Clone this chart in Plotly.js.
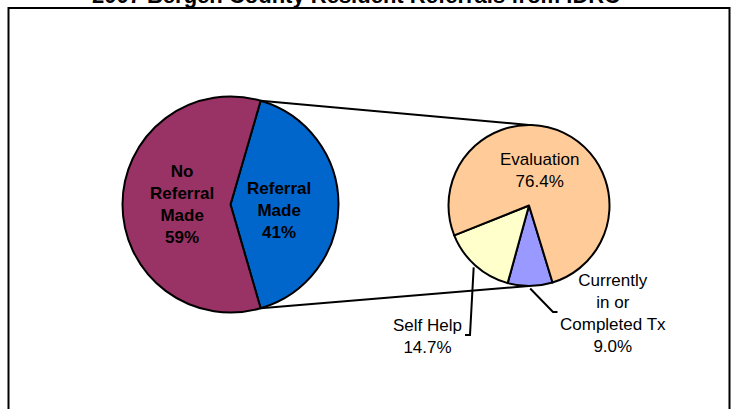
<!DOCTYPE html>
<html>
<head>
<meta charset="utf-8">
<script src="https://cdn.plot.ly/plotly-3.0.1.min.js"></script>
<style>html,body{margin:0;padding:0;background:#fff;}#chart{width:735px;height:409px;}</style>
</head>
<body>
<div id="chart"></div>
<script>
// ---- data ----
var titleText = '2007 Bergen County Resident Referrals from IDRC';
var leftLabels = ['Referral Made', 'No Referral Made'];
var leftValues = [41, 59];
var leftColors = ['#0066CC', '#993366'];
var leftLabelLines = ['Referral<br>Made', 'No<br>Referral<br>Made'];

var rightLabels = ['Currently in or Completed Tx', 'Self Help', 'Evaluation'];
var rightValues = [9.0, 14.7, 76.4];
var rightColors = ['#9999FF', '#FFFFCC', '#FFCC99'];
var rightLabelLines = ['Currently<br>in or<br>Completed Tx', 'Self Help', 'Evaluation'];

// ---- layout geometry (pixels) ----
var W = 735, H = 409;
function px(x) { return x / W; }
function py(y) { return 1 - y / H; }
var L = {cx: 230.5, cy: 204.5, r: 108};
var R = {cx: 529, cy: 205.5, r: 80.5};

function total(a) { return a.reduce(function (s, v) { return s + v; }, 0); }
var leftTot = total(leftValues), rightTot = total(rightValues);
// rotate left pie so the "Referral Made" slice is centred at 3 o'clock
var leftRot = 90 - (leftValues[0] / leftTot) * 360 / 2;
var rightRot = 163;

function edge(p, deg, rr) {
  var a = deg * Math.PI / 180;
  return [p.cx + rr * Math.sin(a), p.cy - rr * Math.cos(a)];
}

var traces = [
  {
    type: 'pie', labels: leftLabels, values: leftValues, sort: false,
    direction: 'clockwise', rotation: leftRot,
    marker: {colors: leftColors, line: {color: '#000', width: 2}},
    textinfo: 'none', hoverinfo: 'none', showlegend: false,
    domain: {x: [px(L.cx - L.r), px(L.cx + L.r)], y: [py(L.cy + L.r), py(L.cy - L.r)]}
  },
  {
    type: 'pie', labels: rightLabels, values: rightValues, sort: false,
    direction: 'clockwise', rotation: rightRot,
    marker: {colors: rightColors, line: {color: '#000', width: 2}},
    textinfo: 'none', hoverinfo: 'none', showlegend: false,
    domain: {x: [px(R.cx - R.r), px(R.cx + R.r)], y: [py(R.cy + R.r), py(R.cy - R.r)]}
  }
];

// split points of left pie (from data)
var a0 = leftRot, a1 = leftRot + leftValues[0] / leftTot * 360;
var pTop = edge(L, a0, L.r), pBot = edge(L, a1, L.r);
var rTop = [R.cx, R.cy - R.r], rBot = [R.cx, R.cy + R.r];

// mid angles of right slices
var mids = [], acc = rightRot;
rightValues.forEach(function (v) {
  var span = v / rightTot * 360;
  mids.push(acc + span / 2);
  acc += span;
});

function linePath(pts) {
  return pts.map(function (p, i) { return (i ? 'L' : 'M') + px(p[0]) + ',' + py(p[1]); }).join(' ');
}

var LW = 2;
var shapes = [
  {type: 'rect', xref: 'paper', yref: 'paper', x0: px(8.5), x1: px(729.5), y0: py(8), y1: py(430),
   line: {color: '#000', width: LW}, fillcolor: 'rgba(0,0,0,0)'},
  {type: 'path', xref: 'paper', yref: 'paper', path: linePath([pTop, rTop]), line: {color: '#000', width: LW}},
  {type: 'path', xref: 'paper', yref: 'paper', path: linePath([pBot, rBot]), line: {color: '#000', width: LW}},
  // leader lines
  {type: 'path', xref: 'paper', yref: 'paper',
   path: linePath([edge(R, mids[1], R.r + 2.5), [470, 335], [465, 335]]), line: {color: '#000', width: LW}},
  {type: 'path', xref: 'paper', yref: 'paper',
   path: linePath([edge(R, mids[0], R.r + 2.5), [553, 312], [557.5, 312]]), line: {color: '#000', width: LW}}
];

var FONT = 'Arial, "Liberation Sans", sans-serif';
function ann(x, y, txt, bold) {
  return {xref: 'paper', yref: 'paper', x: px(x), y: py(y), xanchor: 'center', yanchor: 'middle',
          text: bold ? '<b>' + txt + '</b>' : txt, showarrow: false, align: 'center',
          font: {family: FONT, size: 17, color: '#000'}};
}
function pct0(v, t) { return Math.round(v / t * 100) + '%'; }

var annotations = [
  ann(279, 210, leftLabelLines[0] + '<br>' + pct0(leftValues[0], leftTot), true),
  ann(182, 204.5, leftLabelLines[1] + '<br>' + pct0(leftValues[1], leftTot), true),
  ann(539, 170.5, rightLabelLines[2] + '<br>' + rightValues[2].toFixed(1) + '%', false),
  ann(427.5, 336, rightLabelLines[1] + '<br>' + rightValues[1].toFixed(1) + '%', false),
  ann(612.5, 313.5, rightLabelLines[0] + '<br>' + rightValues[0].toFixed(1) + '%', false)
];

var layout = {
  width: W, height: H,
  margin: {l: 0, r: 0, t: 0, b: 0},
  paper_bgcolor: '#fff', plot_bgcolor: '#fff',
  title: {text: '<b>' + titleText + '</b>', xref: 'container', yref: 'container',
          x: 356 / W, xanchor: 'center', y: 1 - 2.5 / H, yanchor: 'bottom',
          font: {family: FONT, size: 22, color: '#000'}},
  shapes: shapes,
  annotations: annotations,
  showlegend: false
};

Plotly.newPlot('chart', traces, layout, {displayModeBar: false, staticPlot: true});
</script>
</body>
</html>
